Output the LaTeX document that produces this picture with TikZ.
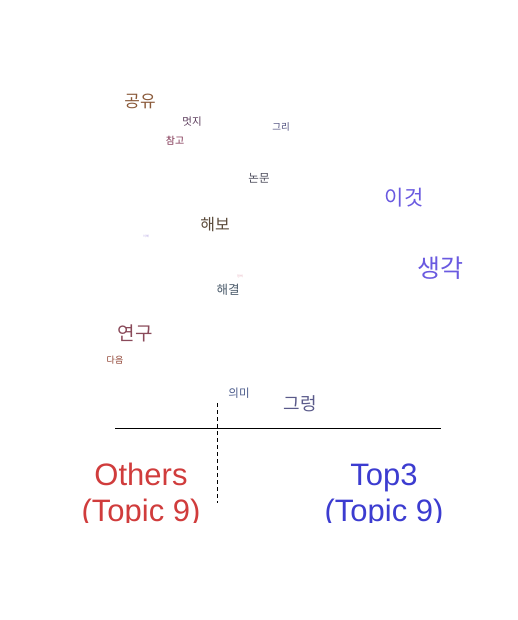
\documentclass[tikz,border=0pt]{standalone}
\usepackage{fontspec}
\setmainfont{Liberation Sans}
\newfontfamily\kofont{Noto Sans CJK KR}
\definecolor{others}{HTML}{D03C3C}
\definecolor{topthree}{HTML}{3C3CD0}
\definecolor{cgongyu}{HTML}{8A5A3A}
\definecolor{cmeotji}{HTML}{5A3A5A}
\definecolor{cchamgo}{HTML}{7A2A4A}
\definecolor{cgeuri}{HTML}{4A4A7A}
\definecolor{cnonmun}{HTML}{4A4A5A}
\definecolor{chaebo}{HTML}{5A4A3A}
\definecolor{cihae}{HTML}{B0A0E0}
\definecolor{cjeongui}{HTML}{E0A0B0}
\definecolor{chaegyeol}{HTML}{4A5A6A}
\definecolor{cyeongu}{HTML}{8A4A5A}
\definecolor{cdaeum}{HTML}{8A3A2A}
\definecolor{cuimi}{HTML}{4A5A8A}
\definecolor{cgeureong}{HTML}{5A5A8A}
\definecolor{ctop}{HTML}{6A5AE0}
\tikzset{
    word/.style={inner sep=0pt, font=\kofont},
    side/.style={inner sep=0pt, align=center, font=\fontsize{31}{36}\selectfont},
}
\newcommand{\wsize}[1]{\fontsize{#1}{#1}\selectfont}
\begin{document}
\begin{tikzpicture}[x=1pt,y=-1pt]
    \useasboundingbox (0,0) rectangle (518,620);

    \coordinate (L1) at (115, 428);
    \coordinate (L2) at (441, 428);
    \coordinate (D1) at (217, 403);
    \coordinate (D2) at (217, 503);

    \node[word, text=cgongyu] (gongyu) at (140, 101) {\wsize{17}공유};
    \node[word, text=cmeotji] (meotji) at (192, 122) {\wsize{10.5}멋지};
    \node[word, text=cchamgo] (chamgo) at (175, 141) {\wsize{10}참고};
    \node[word, text=cgeuri] (geuri) at (281, 127) {\wsize{9.5}그리};
    \node[word, text=cnonmun] (nonmun) at (259, 178) {\wsize{11.5}논문};
    \node[word, text=chaebo] (haebo) at (215, 225) {\wsize{16}해보};
    \node[word, text=cihae] (ihae) at (146, 236) {\wsize{3}이해};
    \node[word, text=cjeongui] (jeongui) at (240, 276) {\wsize{3}정의};
    \node[word, text=chaegyeol] (haegyeol) at (228, 290) {\wsize{12.5}해결};
    \node[word, text=cyeongu] (yeongu) at (135, 333) {\wsize{19}연구};
    \node[word, text=cdaeum] (daeum) at (115, 360) {\wsize{9}다음};
    \node[word, text=cuimi] (uimi) at (239, 393) {\wsize{11.5}의미};
    \node[word, text=cgeureong] (geureong) at (300, 404) {\wsize{18}그렁};
    \node[word, text=ctop] (igeot) at (404, 198) {\wsize{21}이것};
    \node[word, text=ctop] (saenggak) at (440, 268) {\wsize{25}생각};

    \draw[thin] (L1) -- (L2);
    \draw[thin, dash pattern=on 4pt off 3pt] (D1) -- (D2);

    % plot area ends at the baseline of the second line
    \begin{scope}
        \clip (0,0) rectangle (518,522);
        \node[side, text=others, anchor=base] (otherslbl) at (141, 521) {Others\\(Topic 9)};
        \node[side, text=topthree, anchor=base] (toplbl) at (384, 521) {Top3\\(Topic 9)};
    \end{scope}

\end{tikzpicture}
\end{document}
